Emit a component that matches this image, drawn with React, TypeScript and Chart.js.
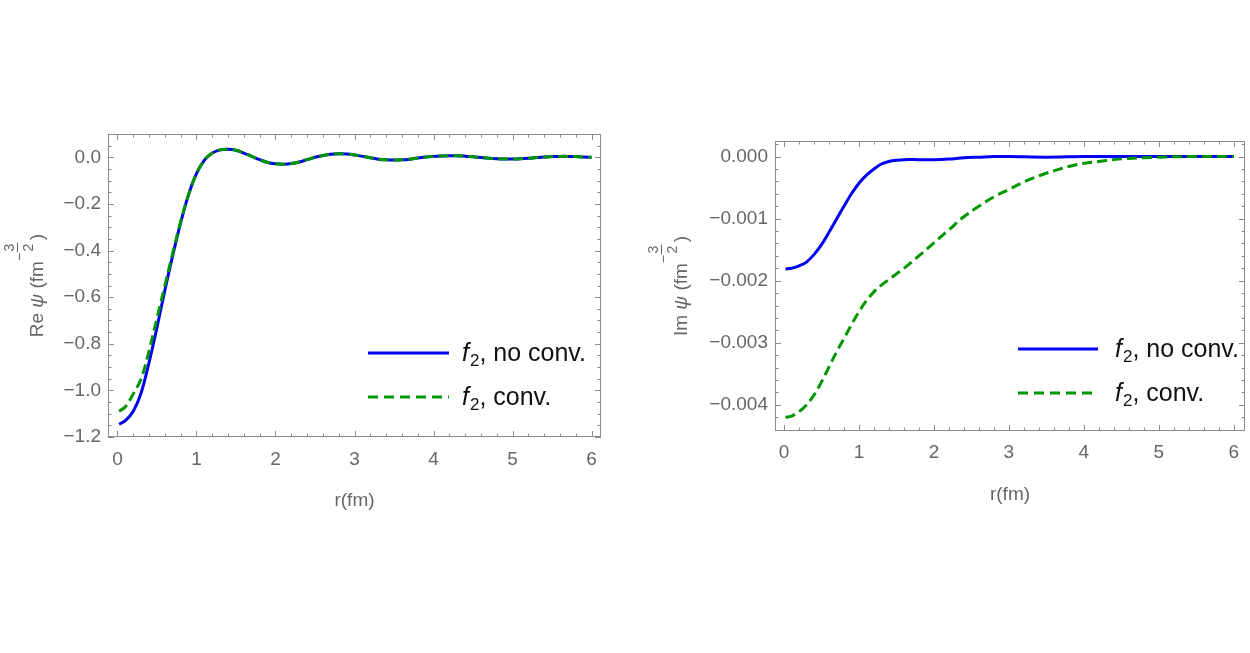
import React, { useEffect, useRef } from "react";
import { Chart, registerables } from "chart.js";

Chart.register(...registerables);

// ---------- data ----------
const rRe = [
  0.02, 0.1, 0.2, 0.3, 0.4, 0.5, 0.6, 0.7, 0.8, 0.9, 1.0, 1.1, 1.2, 1.3, 1.4, 1.5,
  1.6, 1.7, 1.8, 1.9, 2.0, 2.1, 2.2, 2.3, 2.4, 2.5, 2.6, 2.7, 2.8, 2.9, 3.0, 3.1,
  3.2, 3.3, 3.4, 3.5, 3.6, 3.7, 3.8, 3.9, 4.0, 4.1, 4.2, 4.3, 4.4, 4.5, 4.6, 4.7,
  4.8, 4.9, 5.0, 5.1, 5.2, 5.3, 5.4, 5.5, 5.6, 5.7, 5.8, 5.9, 6.0,
];
const reNoConv = [
  -1.145, -1.13, -1.09, -1.01, -0.88, -0.73, -0.57, -0.42, -0.28, -0.16, -0.07, -0.012,
  0.018, 0.032, 0.035, 0.03, 0.018, 0.004, -0.01, -0.022, -0.028, -0.03, -0.027, -0.02,
  -0.01, 0.0, 0.008, 0.013, 0.015, 0.014, 0.01, 0.004, -0.002, -0.008, -0.011, -0.012,
  -0.011, -0.008, -0.003, 0.001, 0.004, 0.006, 0.007, 0.007, 0.005, 0.002, -0.001,
  -0.004, -0.006, -0.007, -0.007, -0.006, -0.004, -0.001, 0.001, 0.003, 0.004, 0.004,
  0.003, 0.001, 0.0,
];
const reConv = [
  -1.09, -1.07, -1.015, -0.95, -0.83, -0.69, -0.55, -0.41, -0.275, -0.16, -0.07, -0.012,
  0.018, 0.032, 0.035, 0.03, 0.018, 0.004, -0.01, -0.022, -0.028, -0.03, -0.027, -0.02,
  -0.01, 0.0, 0.008, 0.013, 0.015, 0.014, 0.01, 0.004, -0.002, -0.008, -0.011, -0.012,
  -0.011, -0.008, -0.003, 0.001, 0.004, 0.006, 0.007, 0.007, 0.005, 0.002, -0.001,
  -0.004, -0.006, -0.007, -0.007, -0.006, -0.004, -0.001, 0.001, 0.003, 0.004, 0.004,
  0.003, 0.001, 0.0,
];

const rImNoConv = [
  0.02, 0.1, 0.2, 0.3, 0.4, 0.5, 0.6, 0.7, 0.8, 0.9, 1.0, 1.1, 1.2, 1.3, 1.4, 1.5, 1.6,
  1.8, 2.0, 2.2, 2.4, 2.6, 2.8, 3.0, 3.5, 4.0, 4.5, 5.0, 5.5, 6.0,
];
const imNoConv = [
  -0.00181, -0.0018, -0.00176, -0.0017, -0.00158, -0.00142, -0.00122, -0.00101, -0.0008,
  -0.0006, -0.00043, -0.0003, -0.0002, -0.00012, -0.00008, -0.00006, -0.00005, -0.00005,
  -0.00005, -0.00004, -0.00002, -0.00001, 0.0, 0.0, -0.00001, 0.0, 0.0, 0.0, 0.0, 0.0,
];
const rImConv = [
  0.02, 0.1, 0.2, 0.3, 0.4, 0.5, 0.6, 0.7, 0.8, 0.9, 1.0, 1.1, 1.2, 1.3, 1.4, 1.5, 1.6,
  1.8, 2.0, 2.2, 2.4, 2.6, 2.8, 3.0, 3.2, 3.4, 3.6, 3.8, 4.0, 4.2, 4.4, 4.6, 4.8, 5.0,
  5.5, 6.0,
];
const imConv = [
  -0.0042, -0.00418, -0.00411, -0.004, -0.00384, -0.00363, -0.00339, -0.00315, -0.00293,
  -0.00271, -0.0025, -0.00232, -0.00218, -0.00207, -0.00198, -0.00189, -0.0018,
  -0.0016, -0.00139, -0.00118, -0.00097, -0.0008, -0.00065, -0.00053, -0.00041,
  -0.00031, -0.00023, -0.00016, -0.00011, -0.00008, -0.00005, -0.00003, -0.00002,
  -0.00001, 0.0, 0.0,
];

const xTicks = [0, 1, 2, 3, 4, 5, 6];
const reTicks = [0, -0.2, -0.4, -0.6, -0.8, -1.0, -1.2];
const imTicks = [0, -0.001, -0.002, -0.003, -0.004];
const seriesLabels = ["no conv.", "conv."];
const xTitle = "r(fm)";

// ---------- styles ----------
const BLUE = "rgb(0,0,245)";
const GREEN = "rgb(0,150,0)";
const LABEL = "#666666";
const FRAME = "#8c8c8c";
const FONT = '"Liberation Sans", Arial, sans-serif';

type Panel = {
  id: string;
  offsetX: number;
  area: { left: number; right: number; top: number; bottom: number };
  xMin: number;
  xMax: number;
  yMin: number;
  yMax: number;
  yTicks: number[];
  yDecimals: number;
  yMinorStep: number;
  xMinorStep: number;
  titlePrefix: string;
  titleX: number;
  xTitleDy: number;
  xLabelPad: number;
  legend: { x1: number; x2: number; tx: number; y1: number; y2: number };
  blue: { x: number[]; y: number[] };
  green: { x: number[]; y: number[] };
};

const CW = 625;
const CH = 653;

const panels: Panel[] = [
  {
    id: "re",
    offsetX: 0,
    area: { left: 108, right: 601, top: 134, bottom: 437 },
    xMin: -0.12,
    xMax: 6.12,
    yMin: -1.2,
    yMax: 0.1,
    yTicks: reTicks,
    yDecimals: 1,
    yMinorStep: 0.05,
    xMinorStep: 0.2,
    titlePrefix: "Re",
    titleX: 43,
    xTitleDy: 64,
    xLabelPad: 11,
    legend: { x1: 368, x2: 449, tx: 462, y1: 353, y2: 397 },
    blue: { x: rRe, y: reNoConv },
    green: { x: rRe, y: reConv },
  },
  {
    id: "im",
    offsetX: 625,
    area: { left: 150, right: 620, top: 141, bottom: 431 },
    xMin: -0.12,
    xMax: 6.15,
    yMin: -0.00442,
    yMax: 0.00025,
    yTicks: imTicks,
    yDecimals: 3,
    yMinorStep: 0.0002,
    xMinorStep: 0.2,
    titlePrefix: "Im",
    titleX: 62,
    xTitleDy: 64,
    xLabelPad: 10,
    legend: { x1: 393, x2: 473, tx: 490, y1: 349, y2: 393 },
    blue: { x: rImNoConv, y: imNoConv },
    green: { x: rImConv, y: imConv },
  },
];

function fmt(v: number, d: number) {
  const s = Math.abs(v) < 1e-12 ? (0).toFixed(d) : v.toFixed(d);
  return s.replace("-", "\u2212");
}

function minorValues(min: number, max: number, step: number, majors: number[]) {
  const out: number[] = [];
  const k0 = Math.ceil(min / step - 1e-9);
  const k1 = Math.floor(max / step + 1e-9);
  for (let k = k0; k <= k1; k++) {
    const v = k * step;
    if (!majors.some((m) => Math.abs(m - v) < step * 1e-3)) out.push(v);
  }
  return out;
}

function drawYTitle(ctx: CanvasRenderingContext2D, prefix: string, x: number, cy: number) {
  ctx.save();
  ctx.translate(x, cy);
  ctx.rotate(-Math.PI / 2);
  ctx.fillStyle = LABEL;
  ctx.strokeStyle = LABEL;
  ctx.textBaseline = "alphabetic";
  ctx.textAlign = "left";
  const big = `19px ${FONT}`;
  const bigIt = `italic 19px ${FONT}`;
  const small = `14px ${FONT}`;
  const pieces: [string, string][] = [
    [prefix + " ", big],
    ["\u03c8", bigIt],
    [" (fm", big],
  ];
  const widths = pieces.map(([t, f]) => {
    ctx.font = f;
    return ctx.measureText(t).width;
  });
  ctx.font = small;
  const minusW = ctx.measureText("\u2212").width;
  const fracW = Math.max(ctx.measureText("3").width, ctx.measureText("2").width) + 3;
  ctx.font = big;
  const parenW = ctx.measureText(")").width;
  const total = widths.reduce((a, b) => a + b, 0) + minusW + fracW + parenW + 2;
  let px = -total / 2;
  pieces.forEach(([t, f], i) => {
    ctx.font = f;
    ctx.fillText(t, px, 0);
    px += widths[i];
  });
  ctx.font = small;
  ctx.fillText("\u2212", px, -19);
  px += minusW;
  const cx = px + fracW / 2;
  ctx.textAlign = "center";
  ctx.fillText("3", cx, -29);
  ctx.lineWidth = 1;
  ctx.beginPath();
  ctx.moveTo(px + 0.5, -25.5);
  ctx.lineTo(px + fracW - 0.5, -25.5);
  ctx.stroke();
  ctx.fillText("2", cx, -10);
  px += fracW + 2;
  ctx.textAlign = "left";
  ctx.font = big;
  ctx.fillText(")", px, 0);
  ctx.restore();
}

function drawLegendText(ctx: CanvasRenderingContext2D, x: number, y: number, label: string) {
  ctx.save();
  ctx.fillStyle = "#111";
  ctx.textBaseline = "alphabetic";
  ctx.textAlign = "left";
  ctx.font = `italic 25px ${FONT}`;
  ctx.fillText("f", x, y);
  let px = x + ctx.measureText("f").width + 1;
  ctx.font = `17px ${FONT}`;
  ctx.fillText("2", px, y + 5);
  px += ctx.measureText("2").width;
  ctx.font = `25px ${FONT}`;
  ctx.fillText(", " + label, px, y);
  ctx.restore();
}

function makePlugin(p: Panel) {
  return {
    id: "mmaFrame_" + p.id,
    afterDraw(chart: any) {
      const ctx: CanvasRenderingContext2D = chart.ctx;
      const a = chart.chartArea;
      const xs = chart.scales.x;
      const ys = chart.scales.y;
      ctx.save();
      // frame
      ctx.strokeStyle = FRAME;
      ctx.lineWidth = 1;
      ctx.setLineDash([]);
      ctx.strokeRect(Math.round(a.left) + 0.5, Math.round(a.top) + 0.5, Math.round(a.right - a.left) - 1, Math.round(a.bottom - a.top) - 1);
      // ticks
      const major = 6;
      const minor = 3.5;
      ctx.beginPath();
      const xm = minorValues(p.xMin, p.xMax, p.xMinorStep, xTicks);
      const addX = (v: number, len: number) => {
        const px = Math.round(xs.getPixelForValue(v)) + 0.5;
        ctx.moveTo(px, a.bottom);
        ctx.lineTo(px, a.bottom - len);
        ctx.moveTo(px, a.top);
        ctx.lineTo(px, a.top + len);
      };
      xTicks.forEach((v) => addX(v, major));
      xm.forEach((v) => addX(v, minor));
      const ym = minorValues(p.yMin, p.yMax, p.yMinorStep, p.yTicks);
      const addY = (v: number, len: number) => {
        const py = Math.round(ys.getPixelForValue(v)) + 0.5;
        ctx.moveTo(a.left, py);
        ctx.lineTo(a.left + len, py);
        ctx.moveTo(a.right, py);
        ctx.lineTo(a.right - len, py);
      };
      p.yTicks.forEach((v) => addY(v, major));
      ym.forEach((v) => addY(v, minor));
      ctx.stroke();
      ctx.restore();

      // x title
      ctx.save();
      ctx.fillStyle = LABEL;
      ctx.font = `19px ${FONT}`;
      ctx.textAlign = "center";
      ctx.textBaseline = "middle";
      ctx.fillText(xTitle, (a.left + a.right) / 2, a.bottom + p.xTitleDy);
      ctx.restore();

      // y title
      drawYTitle(ctx, p.titlePrefix, p.titleX, (a.top + a.bottom) / 2);

      // legend
      const L = p.legend;
      ctx.save();
      ctx.lineWidth = 3;
      ctx.lineCap = "butt";
      ctx.strokeStyle = BLUE;
      ctx.beginPath();
      ctx.moveTo(L.x1, L.y1);
      ctx.lineTo(L.x2, L.y1);
      ctx.stroke();
      ctx.strokeStyle = GREEN;
      ctx.setLineDash([10, 6]);
      ctx.beginPath();
      ctx.moveTo(L.x1, L.y2);
      ctx.lineTo(L.x2, L.y2);
      ctx.stroke();
      ctx.restore();
      drawLegendText(ctx, L.tx, L.y1 + 8, seriesLabels[0]);
      drawLegendText(ctx, L.tx, L.y2 + 8, seriesLabels[1]);
    },
  };
}

function PanelChart({ p }: { p: Panel }) {
  const ref = useRef<HTMLCanvasElement | null>(null);
  useEffect(() => {
    if (!ref.current) return;
    const toPts = (s: { x: number[]; y: number[] }) => s.x.map((x, i) => ({ x, y: s.y[i] }));
    const chart = new Chart(ref.current, {
      type: "line",
      data: {
        datasets: [
          {
            label: "f2, " + seriesLabels[0],
            data: toPts(p.blue),
            borderColor: BLUE,
            borderWidth: 3,
            pointRadius: 0,
            tension: 0.35,
            fill: false,
            order: 2,
          },
          {
            label: "f2, " + seriesLabels[1],
            data: toPts(p.green),
            borderColor: GREEN,
            borderWidth: 3,
            borderDash: [10, 5],
            pointRadius: 0,
            tension: 0.35,
            fill: false,
            order: 1,
          },
        ],
      },
      options: {
        animation: false,
        responsive: false,
        parsing: false,
        events: [],
        layout: {
          padding: { left: 0, top: p.area.top, right: CW - p.area.right, bottom: 0 },
        },
        plugins: {
          legend: { display: false },
          tooltip: { enabled: false },
          title: { display: false },
        },
        scales: {
          x: {
            type: "linear",
            min: p.xMin,
            max: p.xMax,
            grid: { display: false, drawTicks: false },
            border: { display: false },
            afterBuildTicks: (s: any) => {
              s.ticks = xTicks.map((v) => ({ value: v }));
            },
            afterFit: (s: any) => {
              s.height = CH - p.area.bottom;
            },
            ticks: {
              autoSkip: false,
              maxRotation: 0,
              padding: p.xLabelPad,
              color: LABEL,
              font: { family: FONT, size: 19 },
              callback: (v: any) => fmt(Number(v), 0),
            },
          },
          y: {
            type: "linear",
            min: p.yMin,
            max: p.yMax,
            grid: { display: false, drawTicks: false },
            border: { display: false },
            afterBuildTicks: (s: any) => {
              s.ticks = p.yTicks.map((v) => ({ value: v }));
            },
            afterFit: (s: any) => {
              s.width = p.area.left;
            },
            ticks: {
              autoSkip: false,
              padding: 7,
              color: LABEL,
              font: { family: FONT, size: 19 },
              callback: (v: any) => fmt(Number(v), p.yDecimals),
            },
          },
        },
      },
      plugins: [makePlugin(p)],
    } as any);
    return () => chart.destroy();
  }, [p]);
  return (
    <div style={{ position: "absolute", left: p.offsetX, top: 0, width: CW, height: CH }}>
      <canvas ref={ref} width={CW} height={CH} style={{ display: "block" }} />
    </div>
  );
}

export default function App() {
  return (
    <div
      style={{
        position: "absolute",
        left: 0,
        top: 0,
        width: 1250,
        height: 653,
        background: "#ffffff",
        overflow: "hidden",
      }}
    >
      {panels.map((p) => (
        <PanelChart key={p.id} p={p} />
      ))}
    </div>
  );
}
